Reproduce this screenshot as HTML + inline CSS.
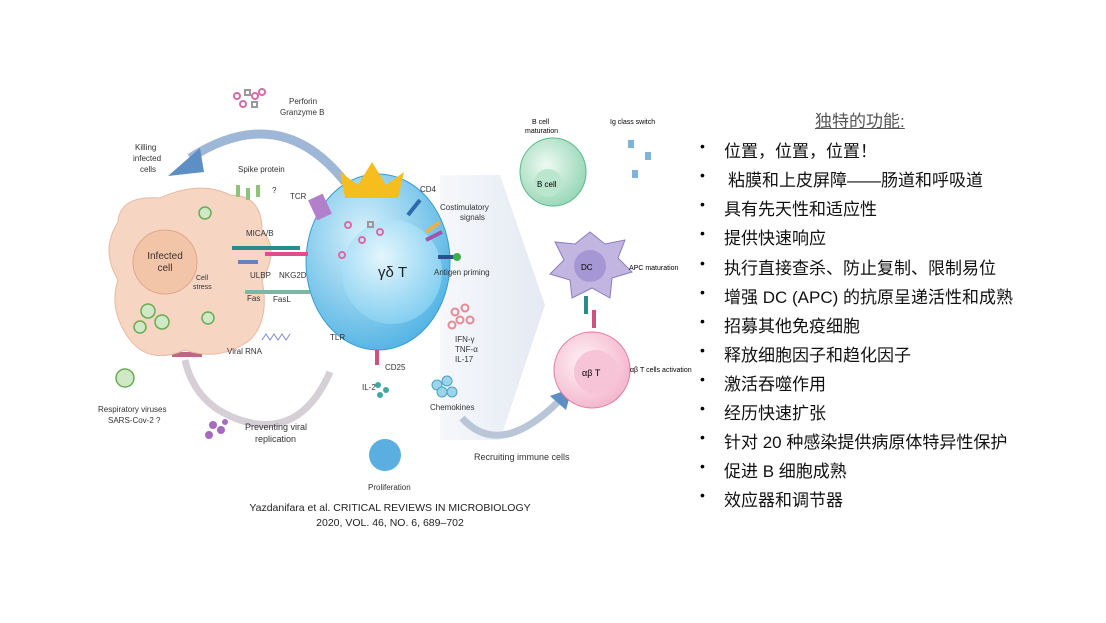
<!DOCTYPE html>
<html><head><meta charset="utf-8"><style>
body{margin:0;background:#fff;width:1106px;height:623px;overflow:hidden;font-family:"Liberation Sans","Noto Sans CJK SC",sans-serif}
#r{position:absolute;left:0;top:0}
.t{position:absolute;font-size:17px;color:#111;white-space:nowrap}
.b{position:absolute;left:700px;font-size:14px}
</style></head><body>
<svg id="r" width="1106" height="623" viewBox="0 0 1106 623" font-family="Liberation Sans, sans-serif">
<defs>
<radialGradient id="gt" cx="0.4" cy="0.35" r="0.7"><stop offset="0" stop-color="#d8f1fb"/><stop offset="1" stop-color="#4fb2e3"/></radialGradient>
<radialGradient id="gn" cx="0.4" cy="0.35" r="0.7"><stop offset="0" stop-color="#e4f6fd"/><stop offset="1" stop-color="#7fcdf0"/></radialGradient>
<linearGradient id="ga" x1="0" x2="1"><stop offset="0" stop-color="#f4f6fa"/><stop offset="1" stop-color="#dde4f0"/></linearGradient>
<radialGradient id="gb" cx="0.4" cy="0.4" r="0.7"><stop offset="0" stop-color="#eefaf2"/><stop offset="1" stop-color="#8fd3b0"/></radialGradient>
<radialGradient id="gp" cx="0.4" cy="0.4" r="0.7"><stop offset="0" stop-color="#fff2f6"/><stop offset="1" stop-color="#f2b0c8"/></radialGradient>
</defs>
<path d="M440 175 L500 175 L545 305 L500 440 L440 440 Z" fill="url(#ga)" opacity="0.8"/>
<path d="M345 182 Q280 100 190 158" fill="none" stroke="#9eb7d6" stroke-width="9"/>
<path d="M168 176 L200 148 L204 172 Z" fill="#5d8ec4"/>
<path d="M330 372 Q300 440 240 420 Q195 405 185 360" fill="none" stroke="#d6d0d6" stroke-width="7"/>
<rect x="172" y="352" width="30" height="5" fill="#b86a84"/>
<path d="M462 418 Q500 460 560 400" fill="none" stroke="#b8c6d8" stroke-width="7"/>
<path d="M550 396 L572 388 L566 410 Z" fill="#5d8ec4"/>
<path d="M118 222 Q120 195 160 198 Q200 180 230 195 Q262 195 262 230 Q280 250 262 280 Q270 320 250 340 Q220 362 185 350 Q150 365 130 340 Q108 310 118 280 Q100 250 118 222Z" fill="#f6d6c3" stroke="#e8b9a0"/>
<circle cx="165" cy="262" r="32" fill="#f3c5a8" stroke="#e0a788"/>
<text x="165" y="259" font-size="10" text-anchor="middle" fill="#333">Infected</text>
<text x="165" y="271" font-size="10" text-anchor="middle" fill="#333">cell</text>
<text x="196" y="280" font-size="7" fill="#333">Cell</text><text x="193" y="289" font-size="7" fill="#333">stress</text>
<g fill="#cfe8c6" stroke="#6aab55" stroke-width="1.5"><circle cx="205" cy="213" r="6"/><circle cx="148" cy="311" r="7"/><circle cx="162" cy="322" r="7"/><circle cx="140" cy="327" r="6"/><circle cx="208" cy="318" r="6"/><circle cx="125" cy="378" r="9"/></g>
<ellipse cx="378" cy="262" rx="72" ry="88" fill="url(#gt)" stroke="#3a9bd2"/>
<ellipse cx="392" cy="272" rx="50" ry="52" fill="url(#gn)"/>
<text x="378" y="277" font-size="15" fill="#222">γδ T</text>
<path d="M345 198 L340 172 L358 185 L372 162 L386 185 L404 172 L398 198Z" fill="#f5bd1e"/>
<g fill="none" stroke-width="2"><circle cx="348" cy="225" r="3" stroke="#d86aa6"/><circle cx="362" cy="240" r="3" stroke="#d86aa6"/><rect x="368" y="222" width="5" height="5" stroke="#999"/><circle cx="380" cy="232" r="3" stroke="#d86aa6"/><circle cx="342" cy="255" r="3" stroke="#d86aa6"/></g>
<g fill="none" stroke-width="2" stroke="#e58a97"><circle cx="455" cy="312" r="3.5"/><circle cx="465" cy="308" r="3.5"/><circle cx="460" cy="320" r="3.5"/><circle cx="470" cy="320" r="3.5"/><circle cx="452" cy="325" r="3.5"/></g>
<g stroke-width="4"><line x1="232" y1="248" x2="300" y2="248" stroke="#2a8a8c"/><line x1="265" y1="254" x2="308" y2="254" stroke="#e24b8c"/><line x1="238" y1="262" x2="258" y2="262" stroke="#6c7fbf"/><line x1="245" y1="292" x2="310" y2="292" stroke="#7ab8a3"/><line x1="408" y1="215" x2="420" y2="200" stroke="#2e6aa9"/><line x1="426" y1="232" x2="440" y2="222" stroke="#e8b14e"/><line x1="426" y1="240" x2="442" y2="232" stroke="#a255a8"/><line x1="438" y1="257" x2="455" y2="257" stroke="#2e4e8e"/><line x1="318" y1="215" x2="325" y2="205" stroke="#9d5db3"/><line x1="377" y1="350" x2="377" y2="365" stroke="#d05080"/></g>
<rect x="312" y="196" width="16" height="22" fill="#b27fcb" transform="rotate(-25 320 207)"/>
<circle cx="457" cy="257" r="4" fill="#3cb04a"/>
<g fill="#8fc27a"><rect x="236" y="185" width="4" height="12"/><rect x="246" y="188" width="4" height="12"/><rect x="256" y="185" width="4" height="12"/></g>
<path d="M262 340 l4-6 4 6 4-6 4 6 4-6 4 6 4-6" fill="none" stroke="#7a8bd6"/>
<circle cx="385" cy="455" r="16" fill="#5aaee0"/>
<g fill="#3fa9a0"><circle cx="378" cy="385" r="3"/><circle cx="386" cy="390" r="3"/><circle cx="380" cy="395" r="3"/></g>
<g fill="#9bd6e8" stroke="#4aa0c6"><circle cx="437" cy="385" r="5"/><circle cx="447" cy="381" r="5"/><circle cx="442" cy="392" r="5"/><circle cx="452" cy="392" r="5"/></g>
<g fill="#a66ac0"><circle cx="213" cy="425" r="4"/><circle cx="221" cy="430" r="4"/><circle cx="209" cy="435" r="4"/><circle cx="225" cy="422" r="3"/></g>
<g fill="none" stroke-width="2"><circle cx="237" cy="96" r="3" stroke="#d86aa6"/><rect x="245" y="90" width="5" height="5" stroke="#999"/><circle cx="255" cy="96" r="3" stroke="#d86aa6"/><circle cx="262" cy="92" r="3" stroke="#d86aa6"/><circle cx="243" cy="104" r="3" stroke="#d86aa6"/><rect x="252" y="102" width="5" height="5" stroke="#999"/></g>
<g font-size="8" fill="#333">
<text x="289" y="104">Perforin</text><text x="280" y="115">Granzyme B</text>
<text x="135" y="150">Killing</text><text x="133" y="161">infected</text><text x="140" y="172">cells</text>
<text x="238" y="172">Spike protein</text><text x="272" y="193">?</text><text x="290" y="199">TCR</text>
<text x="246" y="236">MICA/B</text><text x="250" y="278">ULBP</text><text x="279" y="278">NKG2D</text>
<text x="247" y="301">Fas</text><text x="273" y="302">FasL</text>
<text x="420" y="192">CD4</text><text x="440" y="210">Costimulatory</text><text x="460" y="220">signals</text>
<text x="434" y="275">Antigen priming</text>
<text x="330" y="340">TLR</text><text x="227" y="354">Viral RNA</text>
<text x="455" y="342">IFN-γ</text><text x="455" y="352">TNF-α</text><text x="455" y="362">IL-17</text>
<text x="385" y="370">CD25</text><text x="362" y="390">IL-2</text>
<text x="430" y="410">Chemokines</text>
<text x="368" y="490">Proliferation</text>
<text x="474" y="460" font-size="9">Recruiting immune cells</text>
<text x="245" y="430" font-size="9">Preventing viral</text><text x="255" y="442" font-size="9">replication</text>
<text x="98" y="412">Respiratory viruses</text><text x="108" y="423">SARS-Cov-2 ?</text>
</g>
<ellipse cx="553" cy="172" rx="33" ry="34" fill="url(#gb)" stroke="#5ab88a"/>
<circle cx="548" cy="183" r="14" fill="#b9e6cd"/><text x="537" y="187" font-size="8">B cell</text>
<text x="532" y="124" font-size="7">B cell</text><text x="525" y="133" font-size="7">maturation</text><text x="610" y="124" font-size="7">Ig class switch</text>
<g fill="#7fb3d9"><rect x="628" y="140" width="6" height="8"/><rect x="645" y="152" width="6" height="8"/><rect x="632" y="170" width="6" height="8"/></g>
<path d="M590 232 L605 244 L625 240 L618 258 L632 272 L612 278 L610 298 L592 288 L572 298 L570 280 L550 274 L564 260 L555 242 L575 244Z" fill="#c2b6e0" stroke="#8a7cc0"/>
<circle cx="590" cy="266" r="16" fill="#a497d4"/><text x="581" y="270" font-size="8">DC</text>
<text x="629" y="270" font-size="7">APC maturation</text>
<rect x="584" y="296" width="4" height="18" fill="#2a8a8c"/><rect x="592" y="310" width="4" height="18" fill="#d05080"/>
<circle cx="592" cy="370" r="38" fill="url(#gp)" stroke="#e07aa2"/>
<circle cx="596" cy="372" r="22" fill="#f6c4d6"/><text x="582" y="376" font-size="9">αβ T</text>
<text x="630" y="372" font-size="7">αβ T cells activation</text>
<text x="390" y="511" font-size="10.5" text-anchor="middle" fill="#222">Yazdanifara et al.  CRITICAL REVIEWS IN MICROBIOLOGY</text>
<text x="390" y="526" font-size="10.5" text-anchor="middle" fill="#222">2020, VOL. 46, NO. 6, 689–702</text>
</svg>
<div class="t" style="left:815px;top:107px;color:#555;text-decoration:underline">独特的功能:</div>
<div class="t" style="left:724px;top:137px">位置，位置，位置！</div>
<div class="t" style="left:728px;top:166px">粘膜和上皮屏障——肠道和呼吸道</div>
<div class="t" style="left:724px;top:195px">具有先天性和适应性</div>
<div class="t" style="left:724px;top:224px">提供快速响应</div>
<div class="t" style="left:724px;top:254px">执行直接查杀、防止复制、限制易位</div>
<div class="t" style="left:724px;top:283px">增强 DC (APC) 的抗原呈递活性和成熟</div>
<div class="t" style="left:724px;top:312px">招募其他免疫细胞</div>
<div class="t" style="left:724px;top:341px">释放细胞因子和趋化因子</div>
<div class="t" style="left:724px;top:370px">激活吞噬作用</div>
<div class="t" style="left:724px;top:399px">经历快速扩张</div>
<div class="t" style="left:724px;top:428px">针对 20 种感染提供病原体特异性保护</div>
<div class="t" style="left:724px;top:457px">促进 B 细胞成熟</div>
<div class="t" style="left:724px;top:486px">效应器和调节器</div>
<div class="b" style="top:138px">•</div><div class="b" style="top:167px">•</div><div class="b" style="top:196px">•</div><div class="b" style="top:225px">•</div><div class="b" style="top:255px">•</div><div class="b" style="top:284px">•</div><div class="b" style="top:313px">•</div><div class="b" style="top:342px">•</div><div class="b" style="top:371px">•</div><div class="b" style="top:400px">•</div><div class="b" style="top:429px">•</div><div class="b" style="top:458px">•</div><div class="b" style="top:487px">•</div>
</body></html>
